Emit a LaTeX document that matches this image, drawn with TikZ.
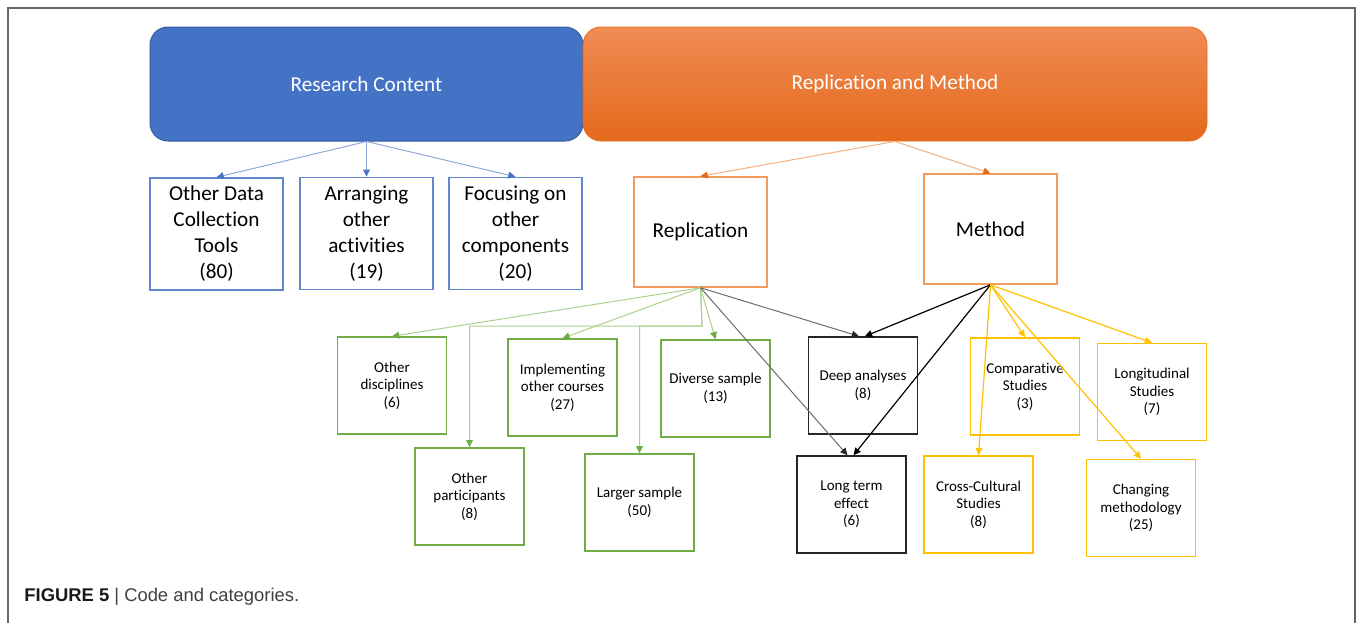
\documentclass[tikz,border=0pt]{standalone}
\usepackage{fontspec}
\setmainfont[RawFeature={-liga;-clig;-calt;-dlig}]{Carlito}
\newfontfamily\capfont{Liberation Sans}
\usetikzlibrary{arrows.meta,positioning}
\definecolor{rcblue}{RGB}{68,114,196}
\definecolor{rcline}{RGB}{142,170,219}
\definecolor{rmtop}{RGB}{240,140,85}
\definecolor{rmbot}{RGB}{228,105,27}
\definecolor{rmline}{RGB}{244,177,131}
\definecolor{rmedge}{RGB}{242,155,95}
\definecolor{cgreen}{RGB}{112,173,71}
\definecolor{cgline}{RGB}{169,209,142}
\definecolor{cyellow}{RGB}{255,192,0}
\definecolor{cdark}{RGB}{38,38,38}
\tikzset{
  head/.style={rounded corners=9pt, minimum width=216.5pt, minimum height=57pt, text=white, font=\fontsize{10.6}{13}\selectfont},
  bigbox/.style={draw, line width=0.75pt, minimum width=66.5pt, minimum height=56pt, align=center, font=\fontsize{10.6}{13}\selectfont},
  smallbox/.style={draw, line width=0.75pt, minimum width=54.5pt, minimum height=48.5pt, align=center, font=\fontsize{7.5}{8.8}\selectfont},
  tip/.style={-{Triangle[length=3.6pt,width=3.4pt]}, line width=0.5pt}
}
\begin{document}
\begin{tikzpicture}[x=0.5pt,y=0.5pt,yscale=-1,xscale=1]
\useasboundingbox (0,0) rectangle (1358,623);
% frame
\draw [color=gray!80!black, line width=0.8pt] (8,623) -- (8,8) -- (1355,8) -- (1355,623);

% headers
\node [head, fill=rcblue, draw=rcblue!80!black, line width=0.5pt] (rc) at (366.5,84) {Research Content};
\node [head, minimum width=312pt, top color=rmtop, bottom color=rmbot, draw=rmbot] (rm) at (895,84) {Replication and Method};

% Research Content boxes
\node [bigbox, draw=rcblue!85!white] (odc) at (216.5,234) {Other Data\\Collection\\Tools\\(80)};
\node [bigbox, draw=rcblue!85!white] (aoa) at (366.5,233.5) {Arranging\\other\\activities\\(19)};
\node [bigbox, draw=rcblue!85!white] (foc) at (515.5,233.5) {Focusing on\\other\\components\\(20)};

% Replication and Method boxes
\node [bigbox, draw=rmedge, minimum height=55pt] (rep) at (700.5,232) {Replication};
\node [bigbox, draw=rmedge, minimum height=55pt] (met) at (990.5,229) {Method};

% green
\node [smallbox, draw=cgreen] (odi) at (392,385.5) {Other\\disciplines\\(6)};
\node [smallbox, draw=cgreen] (ioc) at (562.5,387.5) {Implementing\\other courses\\(27)};
\node [smallbox, draw=cgreen] (dsa) at (715.5,388.5) {Diverse sample\\(13)};
\node [smallbox, draw=cgreen] (opa) at (469.5,496.5) {Other\\participants\\(8)};
\node [smallbox, draw=cgreen] (lsa) at (639.5,502.5) {Larger sample\\(50)};

% black
\node [smallbox, draw=cdark] (dan) at (863,385.5) {Deep analyses\\(8)};
\node [smallbox, draw=cdark] (lte) at (851.5,504.5) {Long term\\effect\\(6)};

% yellow
\node [smallbox, draw=cyellow] (cst) at (1025,386.5) {Comparative\\Studies\\(3)};
\node [smallbox, draw=cyellow] (lst) at (1152,392) {Longitudinal\\Studies\\(7)};
\node [smallbox, draw=cyellow] (ccs) at (978.5,504.5) {Cross-Cultural\\Studies\\(8)};
\node [smallbox, draw=cyellow] (cme) at (1141,508) {Changing\\methodology\\(25)};

% connectors
\foreach \t in {odc,aoa,foc}
  \draw [tip, color=rcline, -{Triangle[length=3.6pt,width=3.4pt,fill=rcblue,color=rcblue]}] (rc.south) -- (\t.north);
\foreach \t in {rep,met}
  \draw [tip, color=rmline, -{Triangle[length=3.6pt,width=3.4pt,fill=rmbot,color=rmbot]}] (rm.south) -- (\t.north);

\coordinate (bend) at (702,326);
\foreach \t in {odi,ioc,dsa}
  \draw [tip, color=cgline, -{Triangle[length=3.6pt,width=3.4pt,fill=cgreen,color=cgreen]}] (rep.south) -- (\t.north);
\foreach \t in {opa,lsa}
  \draw [tip, color=cgline, -{Triangle[length=3.6pt,width=3.4pt,fill=cgreen,color=cgreen]}] (rep.south) -- (bend) -| (\t.north);
\foreach \t in {dan,lte}
  \draw [tip, color=gray!85!black, -{Triangle[length=3.6pt,width=3.4pt,fill=cdark,color=cdark]}] (rep.south) -- ([xshift=-2pt]\t.north);

\foreach \t in {dan,lte}
  \draw [tip, color=black, line width=0.6pt] (met.south) -- ([xshift=1pt]\t.north);
\foreach \t in {cst,lst,ccs,cme}
  \draw [tip, color=cyellow, line width=0.6pt] (met.south) -- (\t.north);

% caption
\node [anchor=west, inner sep=0pt, font=\capfont\fontsize{9.2}{11}\selectfont, text=black!75] (cap) at (24,597) {\textbf{\color{black!90}FIGURE 5} | Code and categories.};
\end{tikzpicture}
\end{document}
